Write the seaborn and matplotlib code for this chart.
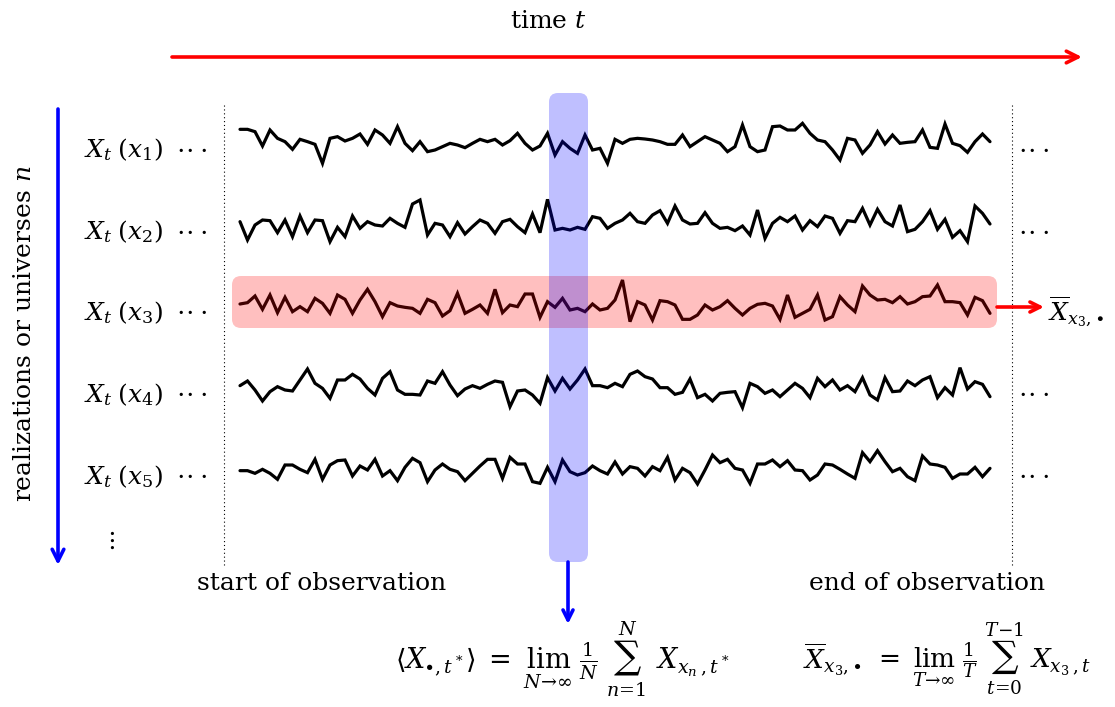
import numpy as np
import pandas as pd
import matplotlib.pyplot as plt
import seaborn as sns
from matplotlib.patches import FancyBboxPatch

# --- data: five realizations, 101 time steps each ---
t = np.arange(101)

x1 = [42, 42, 35, -8, 40, 15, 5, -18, 12, 5, -3, -60, 15, 20, 7, 15, 28, -3, 40, 25,
      0, 50, 0, -22, 5, -25, -20, -10, 0, -5, -13, 0, 12, 5, 12, -5, 8, 30, 0, -20,
      -8, 30, -35, 5, -15, -30, 25, -20, -15, -60, 12,
      0, 12, 15, 13, 10, 5, -3, -3, 25, -10, 5, 20, 10, 0, -25, -10, 55, -10, -25, -20,
      50, 52, 40, 40, 60, 30, 10, 5, -20, -50, 15, 10, -30, -5, 35, -2, 25, 0, 3, 5,
      40, -12, -15, 58, 0, -7, -27, 5, 28, 5]
x2 = [5, -50, -5, 10, 8, -28, 10, -40, 22, -28, 10, 8, -55, -12, -40, 22, -15, 5, -5, -8,
      15, 0, -12, 58, 70, -35, 0, -5, -40, 2, -32, -10, 10, 0, -30, 5, 12, -10, -28, 28,
      -28, 72, -20, -15, -20, -12, -18, 20, 15, -15, 0,
      10, 30, 5, 0, 25, 38, 0, 52, 10, -2, 0, 32, 0, -15, -12, -22, -8, -35, 40, -45,
      0, 18, 5, 22, -20, 8, -10, 22, 15, -30, 8, 5, 45, -5, 42, 5, -8, 55, -25, -18,
      5, 38, -18, 12, -42, -22, -55, 52, 30, -2]
x3 = [-2, 2, 22, -18, 25, -28, 18, -25, -10, -25, 15, 0, -30, 25, 12, -30, 10, 42, 5, -40,
      2, -8, -12, -15, -30, 12, 2, -38, -22, 30, -30, -18, -5, -30, 42, -28, -5, -10, 28, 28,
      -42, 5, -12, 15, -20, -15, -25, -2, -20, -15, 10,
      70, -55, 5, -5, -50, 8, 5, -5, -48, -48, -35, -5, -20, -10, 8, -15, -35, -15, -3, 0,
      -8, -48, 25, -42, -30, -18, 25, -50, -40, 20, -5, -25, 52, 25, 10, 12, 2, 20, -2, 5,
      20, 22, 55, 5, 5, 2, -35, 18, 8, -30]
x4 = [8, 22, -5, -38, -10, 5, -5, -8, 25, 58, 15, 0, -30, 25, 25, 42, 28, 0, -20, 30,
      50, -5, -18, -18, -20, 22, 15, 50, 10, -22, -2, 8, 0, 12, 22, 18, -55, -8, -5, -20,
      -45, 32, -8, 30, -2, 25, 58, 8, 8, 2, 15,
      5, 42, 52, 35, 28, 2, 2, -18, -12, 28, -28, -18, -38, -15, -12, -10, -58, 15, 5, -15,
      -5, -25, -5, 15, 0, -28, 30, 5, 25, -5, 8, -10, 32, -20, -35, 32, -10, -8, 22, 8,
      25, 35, -28, 2, -20, 62, -2, 20, 12, -25]
x5 = [8, 8, 0, 12, 0, -18, 25, 25, 12, 2, 42, -18, 25, 38, 40, -8, 22, 10, 42, -8,
      8, -22, 18, 45, 32, -25, 10, 28, 12, 5, -22, 0, 22, 42, 42, -15, 48, 28, 28, -25,
      -30, 18, -25, 40, 5, -5, 2, 22, 8, -2, 34,
      -2, 20, 15, -8, 20, 8, 48, -20, 15, 2, -32, 10, 55, 32, 42, 15, 10, -30, 28, 28,
      40, 20, 38, 10, 8, -20, -5, 28, 25, 12, -2, -15, 62, 35, 68, 35, 5, 15, -10, -22,
      52, 28, 25, 18, -15, -2, -2, 18, -10, 15]

series = [x1, x2, x3, x4, x5]
row_labels = [r"$X_t\;(x_1)$", r"$X_t\;(x_2)$", r"$X_t\;(x_3)$", r"$X_t\;(x_4)$", r"$X_t\;(x_5)$"]

sns.set_theme(style="white")
plt.rcParams['font.family'] = ['DejaVu Serif']
plt.rcParams['mathtext.fontset'] = 'dejavuserif'
plt.rcParams['text.color'] = 'black'

W, H = 1115, 707
fig = plt.figure(figsize=(W / 100, H / 100), dpi=100)

# --- one small axes per realization (pixel layout -> figure fractions) ---
row_top = [110, 190, 270, 355, 440]
band = 200 / 3
for k, s in enumerate(series):
    rax = fig.add_axes([240 / W, 1 - (row_top[k] + band) / H, 750 / W, band / H])
    df = pd.DataFrame({"t": t, "value": s})
    sns.lineplot(data=df, x="t", y="value", ax=rax, color="black", lw=2.3,
                 sort=False, estimator=None)
    rax.set_xlim(0, 100)
    rax.set_ylim(-100, 100)
    rax.axis("off")
    for ln in rax.lines:
        ln.set_clip_on(False)
        ln.set_solid_joinstyle("miter")

# --- overlay in pixel coordinates for annotations ---
ax = fig.add_axes([0, 0, 1, 1], facecolor="none")
ax.set_xlim(0, W)
ax.set_ylim(H, 0)
ax.axis("off")

fs = 18
arrow = dict(arrowstyle="->,head_length=0.7,head_width=0.35", lw=2.6, shrinkA=0, shrinkB=0)

# time arrow
ax.text(548, 21, r"time $t$", fontsize=fs, ha="center", va="center")
ax.annotate("", xy=(1082, 57), xytext=(172, 57), arrowprops=dict(arrow, color="red"))

# realizations arrow
ax.annotate("", xy=(58, 565), xytext=(58, 109), arrowprops=dict(arrow, color="blue"))
ax.text(25, 334, r"realizations or universes $n$", fontsize=fs, rotation=90,
        ha="center", va="center")

# row labels and ellipses
label_y = [150, 232, 313, 395, 477]
for k, (lab, y) in enumerate(zip(row_labels, label_y)):
    ax.text(163, y, lab, fontsize=fs, ha="right", va="center")
    ax.text(192, y, r"$\cdot\!\cdot\!\cdot$", fontsize=fs, ha="center", va="center")
    if k != 2:
        ax.text(1034, y, r"$\cdot\!\cdot\!\cdot$", fontsize=fs, ha="center", va="center")
ax.text(110, 540, r"$\vdots$", fontsize=fs, ha="center", va="center")

# observation window
for xv in (224, 1012):
    ax.plot([xv, xv], [105, 566], color="black", lw=0.8, ls=(0, (1, 2.5)))
ax.text(322, 584, "start of observation", fontsize=fs, ha="center", va="center")
ax.text(927, 584, "end of observation", fontsize=fs, ha="center", va="center")

# highlighted realization (time average) and time slice (ensemble average)
ax.add_patch(FancyBboxPatch((232, 276), 765, 52, boxstyle="round,pad=0,rounding_size=9",
                            facecolor="red", alpha=0.25, edgecolor="none"))
ax.add_patch(FancyBboxPatch((549, 93), 39, 469, boxstyle="round,pad=0,rounding_size=9",
                            facecolor="blue", alpha=0.25, edgecolor="none"))
ax.annotate("", xy=(1044, 307), xytext=(997, 307),
            arrowprops=dict(arrow, arrowstyle="->,head_length=0.6,head_width=0.3", color="red"))
ax.text(1048, 312, r"$\overline{X}_{x_3,\!\bullet}$", fontsize=fs, ha="left", va="center")
ax.annotate("", xy=(568, 624), xytext=(568, 562),
            arrowprops=dict(arrow, arrowstyle="->,head_length=0.6,head_width=0.3", color="blue"))

# formulas
ax.text(395, 669, r"$\langle X_{\bullet,t^*}\rangle \;=\; \lim_{N\to\infty}\;\frac{1}{N}\;"
        r"\sum_{n=1}^{N}\;\, X_{x_n,t^*}$", fontsize=19.5, ha="left", va="baseline")
ax.text(803, 669, r"$\overline{X}_{x_3,\!\bullet} \;=\; \lim_{T\to\infty}\;\frac{1}{T}\;"
        r"\sum_{t=0}^{T-1}\; X_{x_3,t}$", fontsize=19, ha="left", va="baseline")

fig.savefig("out.png", dpi=100)
